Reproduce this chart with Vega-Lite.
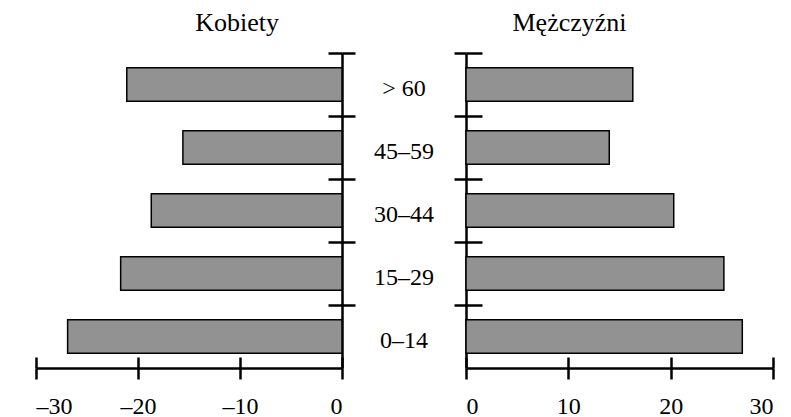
{
  "$schema": "https://vega.github.io/schema/vega-lite/v6.json",
  "padding": {"left": 34, "top": 9, "right": 5, "bottom": 0},
  "background": "white",
  "spacing": 0,
  "bounds": "flush",
  "config": {
    "view": {"stroke": null},
    "font": "Liberation Serif",
    "axis": {
      "domainColor": "black",
      "domainWidth": 2.5,
      "tickColor": "black",
      "tickWidth": 2.5,
      "labelColor": "black",
      "labelFont": "Liberation Serif",
      "labelFontSize": 24,
      "grid": false,
      "title": null
    }
  },
  "datasets": {
    "kobiety": [
      {"age": "> 60", "value": 21.1},
      {"age": "45–59", "value": 15.6},
      {"age": "30–44", "value": 18.7},
      {"age": "15–29", "value": 21.7},
      {"age": "0–14", "value": 26.9}
    ],
    "mezczyzni": [
      {"age": "> 60", "value": 16.3},
      {"age": "45–59", "value": 14.0},
      {"age": "30–44", "value": 20.3},
      {"age": "15–29", "value": 25.2},
      {"age": "0–14", "value": 27.0}
    ],
    "ages": [
      {"age": "> 60"},
      {"age": "45–59"},
      {"age": "30–44"},
      {"age": "15–29"},
      {"age": "0–14"}
    ]
  },
  "hconcat": [
    {
      "width": 306,
      "height": 315,
      "data": {"name": "kobiety"},
      "title": {"text": "Kobiety", "font": "Liberation Serif", "fontSize": 26, "fontWeight": "normal", "color": "black", "anchor": "middle", "dx": 48, "offset": 16},
      "resolve": {"axis": {"x": "independent", "y": "independent"}},
      "layer": [
        {
          "mark": {"type": "bar", "fill": "#929292", "stroke": "black", "strokeWidth": 1.5},
          "encoding": {
            "y": {
              "field": "age", "type": "nominal",
              "sort": ["> 60", "45–59", "30–44", "15–29", "0–14"],
              "scale": {"paddingInner": 0.47, "paddingOuter": 0.235},
              "axis": {"orient": "right", "labels": false, "bandPosition": 0, "tickOffset": -14.8, "tickSize": 13}
            },
            "x": {
              "field": "value", "type": "quantitative",
              "scale": {"domain": [0, 30], "reverse": true, "nice": false},
              "axis": {
                "orient": "bottom", "values": [0, 10, 20, 30], "tickSize": 11, "labelPadding": 15,
                "labelExpr": "datum.value == 0 ? '0' : '–' + datum.label"
              }
            }
          }
        },
        {
          "mark": {"type": "bar", "opacity": 0},
          "encoding": {
            "y": {
              "field": "age", "type": "nominal",
              "sort": ["> 60", "45–59", "30–44", "15–29", "0–14"],
              "axis": {"orient": "right", "labels": false, "domain": false, "bandPosition": 0, "tickOffset": -14.8, "tickSize": -14}
            },
            "x": {
              "field": "value", "type": "quantitative",
              "axis": {"orient": "bottom", "values": [0, 10, 20, 30], "labels": false, "domain": false, "tickSize": -11}
            }
          }
        }
      ]
    },
    {
      "width": 124,
      "height": 315,
      "data": {"name": "ages"},
      "mark": {"type": "text", "font": "Liberation Serif", "fontSize": 24, "color": "black", "baseline": "middle", "dy": 4},
      "encoding": {
        "y": {
          "field": "age", "type": "nominal",
          "sort": ["> 60", "45–59", "30–44", "15–29", "0–14"],
          "scale": {"paddingInner": 0.47, "paddingOuter": 0.235},
          "axis": null
        },
        "text": {"field": "age"}
      }
    },
    {
      "width": 307,
      "height": 315,
      "data": {"name": "mezczyzni"},
      "title": {"text": "Mężczyźni", "font": "Liberation Serif", "fontSize": 26, "fontWeight": "normal", "color": "black", "anchor": "middle", "dx": -50, "offset": 16},
      "resolve": {"axis": {"x": "independent", "y": "independent"}},
      "layer": [
        {
          "mark": {"type": "bar", "fill": "#929292", "stroke": "black", "strokeWidth": 1.5},
          "encoding": {
            "y": {
              "field": "age", "type": "nominal",
              "sort": ["> 60", "45–59", "30–44", "15–29", "0–14"],
              "scale": {"paddingInner": 0.47, "paddingOuter": 0.235},
              "axis": {"orient": "left", "labels": false, "bandPosition": 0, "tickOffset": -14.8, "tickSize": 12}
            },
            "x": {
              "field": "value", "type": "quantitative",
              "scale": {"domain": [0, 30], "nice": false},
              "axis": {"orient": "bottom", "values": [0, 10, 20, 30], "tickSize": 11, "labelPadding": 15}
            }
          }
        },
        {
          "mark": {"type": "bar", "opacity": 0},
          "encoding": {
            "y": {
              "field": "age", "type": "nominal",
              "sort": ["> 60", "45–59", "30–44", "15–29", "0–14"],
              "axis": {"orient": "left", "labels": false, "domain": false, "bandPosition": 0, "tickOffset": -14.8, "tickSize": -16}
            },
            "x": {
              "field": "value", "type": "quantitative",
              "axis": {"orient": "bottom", "values": [0, 10, 20, 30], "labels": false, "domain": false, "tickSize": -11}
            }
          }
        }
      ]
    }
  ]
}
